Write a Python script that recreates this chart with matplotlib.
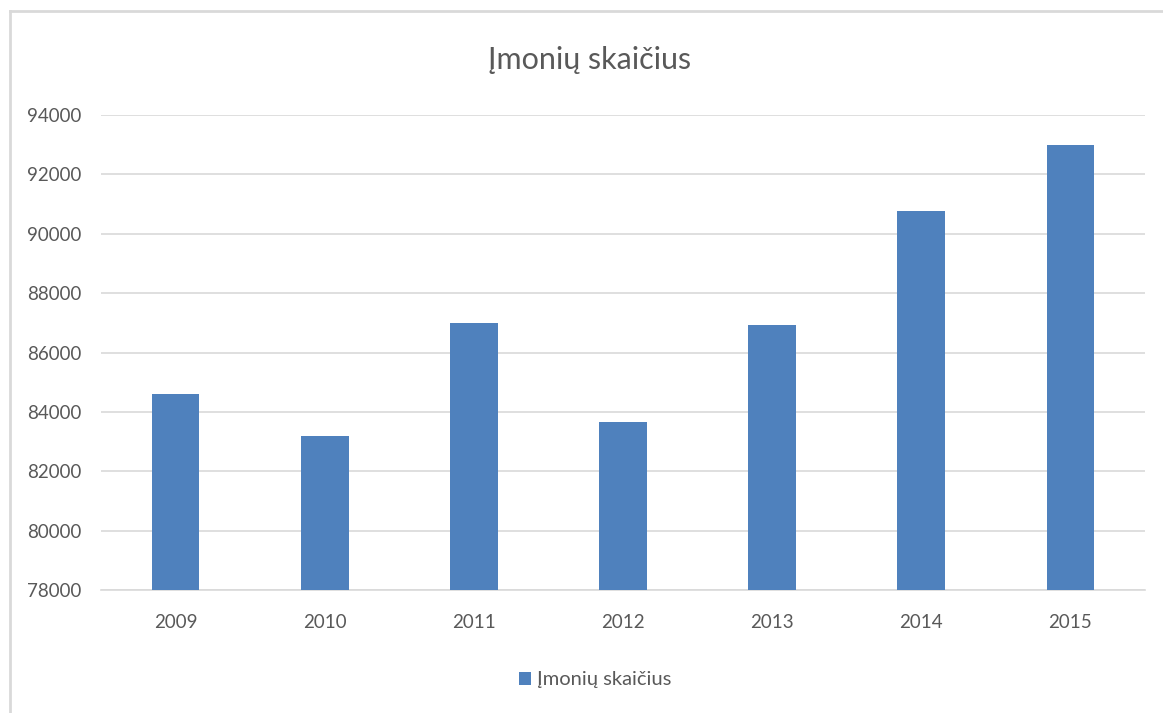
import matplotlib
matplotlib.use('Agg')
import matplotlib.pyplot as plt
from matplotlib.lines import Line2D

plt.rcParams['font.family'] = ['Lato', 'DejaVu Sans']

# duomenys
years = ['2009', '2010', '2011', '2012', '2013', '2014', '2015']
counts = [84600, 83200, 87000, 83650, 86920, 90780, 93000]
series_name = 'Įmonių skaičius'
y_ticks = [78000, 80000, 82000, 84000, 86000, 88000, 90000, 92000, 94000]

bar_color = '#4F81BD'
text_color = '#595959'
grid_color = '#D9D9D9'

W, H = 1163, 713
fig = plt.figure(figsize=(W / 100, H / 100), dpi=100)
fig.patch.set_facecolor('white')

# plot area
ax = fig.add_axes([101 / W, 1 - 590 / H, (1145 - 101) / W, (590 - 115) / H])
x = range(len(years))
ax.bar(x, counts, width=0.32, color=bar_color, label=series_name, zorder=3)

ax.set_xlim(-0.5, len(years) - 0.5)
ax.set_ylim(y_ticks[0], y_ticks[-1])
ax.set_yticks(y_ticks)
ax.set_yticklabels([str(t) for t in y_ticks])
ax.set_xticks(list(x))
ax.set_xticklabels(years)

ax.grid(axis='y', color=grid_color, linewidth=1.2, zorder=0)
for s in ['top', 'right', 'left']:
    ax.spines[s].set_visible(False)
ax.spines['bottom'].set_color(grid_color)
ax.spines['bottom'].set_linewidth(1.2)
ax.tick_params(axis='both', length=0, labelsize=13.5, colors=text_color)
ax.tick_params(axis='y', pad=14)
ax.tick_params(axis='x', pad=17)

fig.text(590 / W, 1 - 60 / H, series_name, ha='center', va='center',
         fontsize=22, color=text_color)

fig.legend(loc='center', bbox_to_anchor=(595 / W, 1 - 680 / H), frameon=False,
           fontsize=14.5, labelcolor=text_color, handlelength=0.6,
           handleheight=0.6, handletextpad=0.3)

# chart border (left/top visible)
fig.add_artist(Line2D([10 / W, 10 / W], [0, 1 - 11 / H], color=grid_color,
                      linewidth=2, transform=fig.transFigure))
fig.add_artist(Line2D([10 / W, 1], [1 - 11 / H, 1 - 11 / H], color=grid_color,
                      linewidth=2, transform=fig.transFigure))

fig.savefig('out.png', dpi=100, facecolor='white')
